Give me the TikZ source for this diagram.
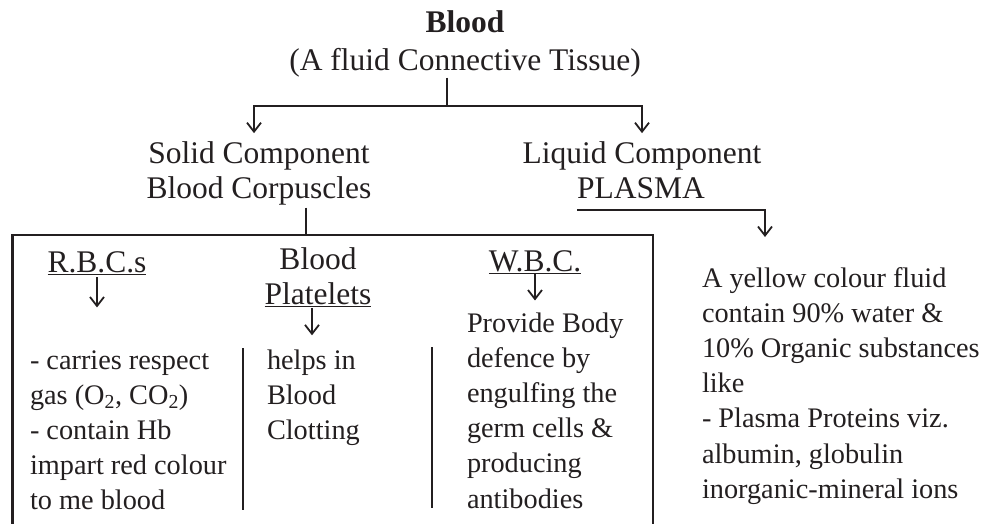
\documentclass[tikz,border=0pt]{standalone}
\usepackage{fontspec}
\setmainfont{Liberation Serif}
\usetikzlibrary{arrows.meta,positioning}
\definecolor{ink}{RGB}{35,31,32}

\begin{document}
\begin{tikzpicture}[x=1pt, y=-1pt, >={Straight Barb[length=9pt,width=14pt]}, line width=1.8pt, color=ink,
    every node/.style={inner sep=0pt, outer sep=0pt},
    head/.style={font=\fontsize{31.5}{35}\selectfont, align=center, anchor=base},
    body/.style={font=\fontsize{28.3}{35.2}\selectfont, align=left, anchor=base west},
    frame/.style={line width=2.4pt},
    divider/.style={line width=2.4pt}]

  \useasboundingbox (0,0) rectangle (984,524);

  % multi-line nodes sit on the baseline of their last line
  \node[head]   (blood)     at (465,33)   {\bfseries Blood};
  \node[head]   (tissue)    at (465,71)   {(A fluid Connective Tissue)};
  \node[head]   (solid)     at (259,198)  {Solid Component\\Blood Corpuscles};
  \node[head]   (liquid)    at (642,163)  {Liquid Component};
  \node[head]   (plasma)    at (641,198)  {PLASMA};

  \coordinate (split)     at (447,106);
  \coordinate (join)      at (306,235);
  \coordinate (plasmaTip) at (765,237);

  \draw (split |- tissue.south) -- (split);
  \draw[->] (split) -| ([xshift=-5pt, yshift=8pt]solid.north);
  \draw[->] (split) -| ([yshift=8pt]liquid.north);
  \draw[->] ([yshift=-12pt]plasma.base west) -| (plasmaTip);

  % open box round the corpuscles
  \draw[frame] (12.5,524) |- (653,235) -- (653,524);
  \draw ([yshift=-3pt]join |- solid.south) -- (join);

  \node[head]   (rbc)       at (97,272)   {\underline{R.B.C.s}};
  \node[head]   (platelets) at (318,304)  {Blood\\\underline{Platelets}};
  \node[head]   (wbc)       at (535,271)  {\underline{W.B.C.}};

  \draw[->] ([yshift=-3pt]rbc.south) -- ++(0,30);
  \draw[->] ([xshift=-6pt, yshift=-2pt]platelets.south) -- ++(0,27);
  \draw[->] (wbc.south) -- ++(0,27);

  \draw[divider] (243,348) -- (243,510);
  \draw[divider] (432,347) -- (432,508);

  \node[body]   (rbcText)    at (30,509.8)  {- carries respect\\gas (O\textsubscript{2}, CO\textsubscript{2})\\- contain Hb\\impart red colour\\to me blood};
  \node[body]   (plateText)  at (267,439.4) {helps in\\Blood\\Clotting};
  \node[body]   (wbcText)    at (467,508)   {Provide Body\\defence by\\engulfing the\\germ cells \&\\producing\\antibodies};
  \node[body]   (plasmaText) at (702,498.2) {A yellow colour fluid\\contain 90\% water \&\\10\% Organic substances\\like\\- Plasma Proteins viz.\\albumin, globulin\\inorganic-mineral ions};
\end{tikzpicture}
\end{document}
